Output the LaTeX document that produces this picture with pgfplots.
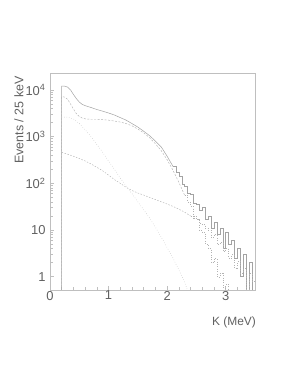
\documentclass[border=0pt]{standalone}
\usepackage{pgfplots}
\pgfplotsset{compat=1.18}
\usepackage{fontspec}
\setmainfont{Liberation Sans}
\definecolor{frame}{gray}{0.75}
\definecolor{curve}{gray}{0.64}
\definecolor{comp}{gray}{0.70}
\definecolor{txt}{gray}{0.38}
\begin{document}
\begin{tikzpicture}
\path (0,0) rectangle (300bp,388bp);
\begin{axis}[at={(50bp,98bp)}, anchor=south west, scale only axis,
  width=205bp, height=217bp,
  xmin=0, xmax=3.5, ymode=log, ymin=0.52, ymax=23000,
  axis line style={frame, line width=0.6pt},
  every tick/.style={frame, line width=0.5pt},
  tick align=inside, tick pos=left,
  major tick length=4bp, minor tick length=2.5bp,
  xtick={0,1,2,3}, xticklabels={0,1,2,3},
  minor xtick={0.2,0.4,0.6,0.8,1.2,1.4,1.6,1.8,2.2,2.4,2.6,2.8,3.2,3.4},
  ytick={1,10,100,1000,10000},
  yticklabels={1,10,10\textsuperscript{2},10\textsuperscript{3},10\textsuperscript{4}},
  ticklabel style={font=\fontsize{13}{15}\selectfont, text=txt},
  xticklabel style={yshift=2.5bp},
  yticklabel style={xshift=-1bp},
  clip=true]
% total
\addplot[curve, line width=0.5pt] coordinates {(0.2,0.3)(0.2,12000)(0.25,12000)(0.30,11500)(0.35,10000)(0.40,8000)(0.45,6500)(0.50,5500)(0.55,4900)(0.60,4600)(0.70,4200)(0.80,3800)(0.90,3500)(1.00,3200)(1.10,2900)(1.20,2550)(1.30,2250)(1.40,1900)(1.50,1600)(1.60,1300)(1.70,1050)(1.80,800)(1.90,600)(2.00,380)(2.10,230)};
\addplot[curve, line width=0.5pt, const plot] coordinates {(2.10,230)(2.15,175)(2.20,140)(2.25,95)(2.30,85)(2.35,60)(2.40,58)(2.45,38)(2.50,36)(2.55,26)(2.60,30)(2.65,17)(2.70,20)(2.75,11)(2.80,15)(2.85,8)(2.90,11)(2.95,4)(3.00,9)(3.05,5)(3.10,6)(3.15,2.5)(3.20,4)(3.25,1)(3.30,3)(3.35,0.3)(3.40,2)(3.45,0.3)(3.50,0.3)};
% second component (dashed)
\addplot[comp, line width=0.45pt, dash pattern=on 2pt off 1.5pt] coordinates {(0.2,0.3)(0.2,7200)(0.25,7000)(0.30,6300)(0.35,5000)(0.40,3900)(0.45,3100)(0.50,2700)(0.55,2500)(0.60,2400)(0.70,2350)(0.80,2350)(0.90,2300)(1.00,2250)(1.10,2150)(1.20,2050)(1.30,1900)(1.40,1700)(1.50,1450)(1.60,1200)(1.70,950)(1.80,700)(1.90,500)(2.00,320)(2.10,190)(2.20,105)(2.30,55)};
\addplot[comp, line width=0.45pt, dotted, const plot] coordinates {(2.30,55)(2.35,40)(2.40,32)(2.45,20)(2.50,17)(2.55,10)(2.60,9)(2.65,5)(2.70,4)(2.75,2)(2.80,2.5)(2.85,1)(2.90,1.2)(2.95,0.3)(3.00,0.7)(3.05,0.3)(3.10,0.3)};
% third component (steep, dotted)
\addplot[comp, line width=0.45pt, dotted] coordinates {(0.2,2600)(0.30,2600)(0.40,2400)(0.50,1900)(0.60,1400)(0.70,1000)(0.80,680)(0.90,460)(1.00,300)(1.10,200)(1.20,130)(1.30,88)(1.40,60)(1.50,40)(1.60,27)(1.70,18)(1.80,11.5)(1.90,7)(2.00,4.2)(2.10,2.5)(2.20,1.4)(2.30,0.75)(2.35,0.5)(2.40,0.3)};
% fourth component (gentle)
\addplot[comp, line width=0.45pt, dash pattern=on 1.5pt off 1.5pt] coordinates {(0.2,460)(0.30,420)(0.40,380)(0.50,340)(0.60,300)(0.70,260)(0.80,220)(0.90,185)(1.00,150)(1.10,120)(1.20,100)(1.30,82)(1.40,70)(1.50,62)(1.60,56)(1.70,50)(1.80,45)(1.90,40)(2.00,36)(2.10,32)(2.20,28)(2.30,24)(2.40,20)};
\addplot[comp, line width=0.45pt, dotted, const plot] coordinates {(2.40,20)(2.45,18)(2.50,17)(2.55,14)(2.60,13)(2.65,11)(2.70,10)(2.75,7)(2.80,8)(2.85,5)(2.90,5.5)(2.95,3.5)(3.00,4)(3.05,2.5)(3.10,3)(3.15,1.5)(3.20,2.2)(3.25,1.2)(3.30,1.5)(3.35,0.3)(3.40,1.2)(3.45,0.8)(3.50,0.8)};
\end{axis}
\node[rotate=90, text=txt, font=\fontsize{12.5}{14}\selectfont] at (19bp,268bp) {Events / 25 keV};
\node[text=txt, font=\fontsize{12}{14}\selectfont] at (234bp,66bp) {K (MeV)};
\end{tikzpicture}
\end{document}
